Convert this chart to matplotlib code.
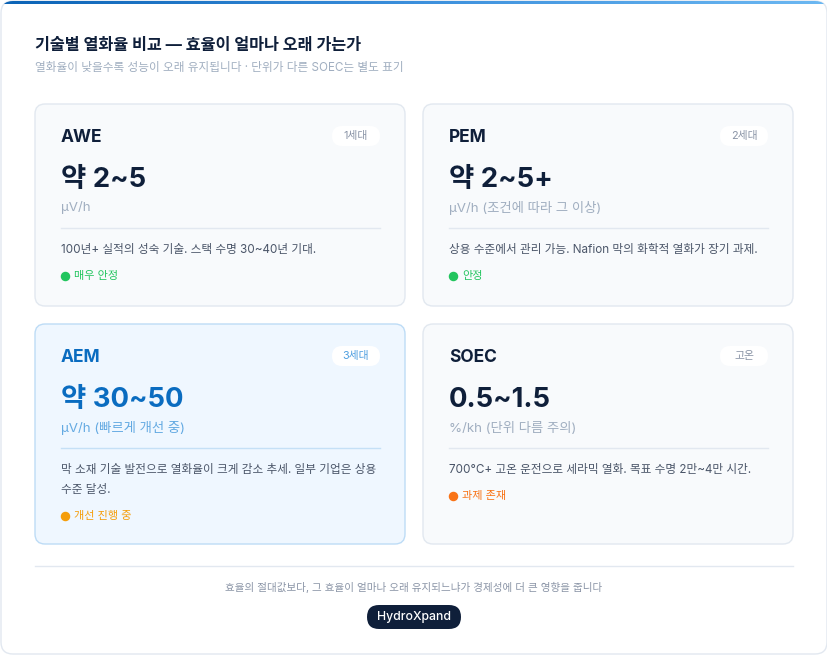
import matplotlib.pyplot as plt
import numpy as np
from matplotlib.patches import FancyBboxPatch
from matplotlib.colors import LinearSegmentedColormap

plt.rcParams['font.family'] = ['Inter', 'Noto Sans CJK KR', 'DejaVu Sans']

# ---- data ----
title = '기술별 열화율 비교 — 효율이 얼마나 오래 가는가'
subtitle = '열화율이 낮을수록 성능이 오래 유지됩니다 · 단위가 다른 SOEC는 별도 표기'
names = ['AWE', 'PEM', 'AEM', 'SOEC']
badges = ['1세대', '2세대', '3세대', '고온']
values = ['약 2~5', '약 2~5+', '약 30~50', '0.5~1.5']
units = ['µV/h', 'µV/h (조건에 따라 그 이상)', 'µV/h (빠르게 개선 중)', '%/kh (단위 다름 주의)']
descs = ['100년+ 실적의 성숙 기술. 스택 수명 30~40년 기대.',
         '상용 수준에서 관리 가능. Nafion 막의 화학적 열화가 장기 과제.',
         '막 소재 기술 발전으로 열화율이 크게 감소 추세. 일부 기업은 상용\n수준 달성.',
         '700°C+ 고온 운전으로 세라믹 열화. 목표 수명 2만~4만 시간.']
statuses = ['매우 안정', '안정', '개선 진행 중', '과제 존재']
status_colors = ['#22c55e', '#22c55e', '#f59e0b', '#f97316']
highlight = [False, False, True, False]
footer = '효율의 절대값보다, 그 효율이 얼마나 오래 유지되느냐가 경제성에 더 큰 영향을 줍니다'
brand = 'HydroXpand'

W, H = 828, 655
fig = plt.figure(figsize=(W / 100, H / 100), dpi=100)
ax = fig.add_axes([0, 0, 1, 1])
ax.set_xlim(0, W)
ax.set_ylim(H, 0)
ax.axis('off')

dark = '#0f1f3a'

# outer card
outer = FancyBboxPatch((1, 1), W - 2, H - 2, boxstyle='round,pad=0,rounding_size=12',
                       fc='white', ec='#e2e8f0', lw=1)
ax.add_patch(outer)

# gradient bar on top
grad = np.linspace(0, 1, 256).reshape(1, -1)
cmap = LinearSegmentedColormap.from_list('bar', ['#0b63b6', '#3b8fdc', '#6cb8f2'])
im = ax.imshow(grad, extent=[0, W, 4.5, 0], cmap=cmap, aspect='auto', zorder=3)
im.set_clip_path(outer)

ax.text(35, 45, title, fontsize=11.7, fontweight='bold', color=dark, va='center')
ax.text(35, 68, subtitle, fontsize=8.4, color='#a0aec0', va='center')

# cards
xs = [35, 423, 35, 423]
ys = [104, 104, 324, 324]
hs = [202, 202, 220, 220]
cw = 370
for i in range(4):
    x0, y0, h = xs[i], ys[i], hs[i]
    if highlight[i]:
        fc, ec = '#eff7ff', '#bddcf6'
        main, sub, sep, btc = '#0a6cc0', '#64aae2', '#c5e0f6', '#4f9fe0'
    else:
        fc, ec = '#f8fafc', '#e2e8f0'
        main, sub, sep, btc = dark, '#a0aec0', '#e2e8f0', '#8a94a6'
    ax.add_patch(FancyBboxPatch((x0, y0), cw, h, boxstyle='round,pad=0,rounding_size=10',
                                fc=fc, ec=ec, lw=1))
    ax.text(x0 + 26, y0 + 33, names[i], fontsize=12.5, fontweight='bold', color=main, va='center')
    ax.add_patch(FancyBboxPatch((x0 + 297, y0 + 22), 48, 20, boxstyle='round,pad=0,rounding_size=10',
                                fc='white', ec='none'))
    ax.text(x0 + 321, y0 + 32, badges[i], fontsize=7.8, color=btc, va='center', ha='center')
    ax.text(x0 + 26, y0 + 76, values[i], fontsize=19.8, fontweight='bold', color=main, va='center')
    ax.text(x0 + 26, y0 + 104, units[i], fontsize=9.6, color=sub, va='center')
    ax.plot([x0 + 26, x0 + 345], [y0 + 124, y0 + 124], color=sep, lw=1)
    ax.text(x0 + 26, y0 + 140, descs[i], fontsize=8.4, color='#4a5568', va='top', linespacing=1.9)
    nlines = descs[i].count('\n')
    sy = y0 + 172 + nlines * 20
    ax.scatter([x0 + 30], [sy], s=34, color=status_colors[i], zorder=4)
    ax.text(x0 + 39, sy, statuses[i], fontsize=8, color=status_colors[i], va='center')

# footer
ax.plot([35, 793], [566, 566], color='#e2e8f0', lw=1)
ax.text(W / 2, 587, footer, fontsize=7.6, color='#8a94a6', va='center', ha='center')
ax.add_patch(FancyBboxPatch((367, 605), 94, 24, boxstyle='round,pad=0,rounding_size=12',
                            fc=dark, ec='none'))
ax.text(414, 617, brand, fontsize=8.8, fontweight='medium', color='white', va='center', ha='center')

fig.savefig('out.png', dpi=100)
